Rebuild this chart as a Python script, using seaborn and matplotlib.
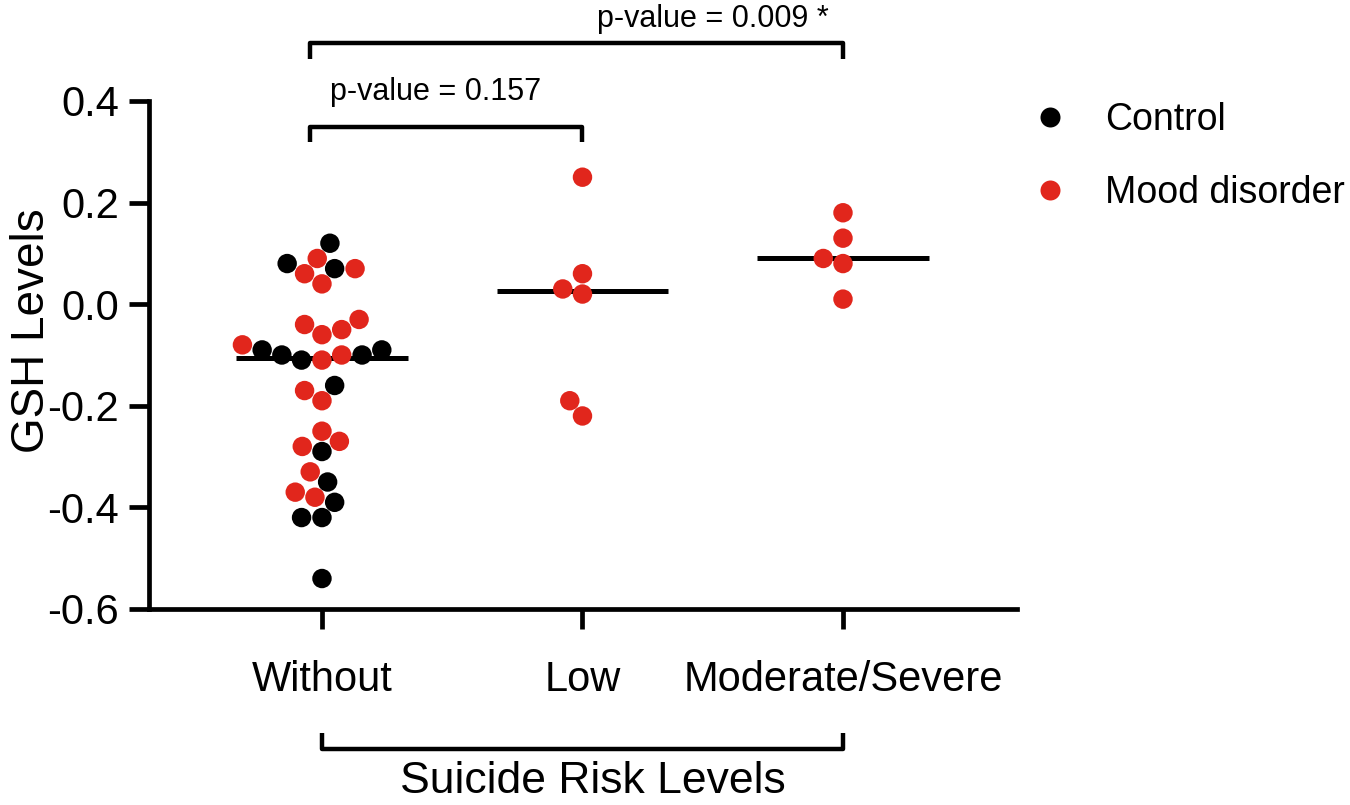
import pandas as pd
import numpy as np
import matplotlib
matplotlib.use("Agg")
import matplotlib.pyplot as plt
import matplotlib.lines as mlines
import seaborn as sns

# --- Data ---
categories = ["Without", "Low", "Moderate/Severe"]
groups = ["Control", "Mood disorder"]

without_control = [0.12, 0.08, 0.07, -0.09, -0.09, -0.10, -0.10, -0.11, -0.16,
                   -0.29, -0.35, -0.39, -0.42, -0.42, -0.54]
without_mood = [0.09, 0.07, 0.06, 0.04, -0.03, -0.04, -0.05, -0.06, -0.08, -0.10,
                -0.11, -0.17, -0.19, -0.25, -0.27, -0.28, -0.33, -0.37, -0.38]
low_mood = [0.25, 0.06, 0.03, 0.02, -0.19, -0.22]
severe_mood = [0.18, 0.13, 0.09, 0.08, 0.01]

pvalue_labels = ["p-value = 0.157", "p-value = 0.009 *"]
colors = {"Control": "#000000", "Mood disorder": "#E1261C"}

# --- Build long table ---
rows = []
for v in without_control:
    rows.append(("Without", "Control", v))
for v in without_mood:
    rows.append(("Without", "Mood disorder", v))
for v in low_mood:
    rows.append(("Low", "Mood disorder", v))
for v in severe_mood:
    rows.append(("Moderate/Severe", "Mood disorder", v))
df = pd.DataFrame(rows, columns=["risk", "group", "gsh"])

# --- Style ---
sns.set_style("ticks", {"axes.edgecolor": "black", "text.color": "black",
                        "xtick.color": "black", "ytick.color": "black",
                        "axes.labelcolor": "black"})
plt.rcParams["font.family"] = ["Liberation Sans", "DejaVu Sans"]

fig = plt.figure(figsize=(13.5, 8.05), dpi=100)
ax = fig.add_axes([149 / 1350, 1 - 609 / 805, 868 / 1350, 508 / 805])

sns.swarmplot(data=df, x="risk", y="gsh", hue="group", order=categories,
              hue_order=groups, palette=colors, size=14, linewidth=0,
              legend=False, ax=ax)

# median lines
medians = df.groupby("risk")["gsh"].median().reindex(categories)
for i, m in enumerate(medians):
    ax.hlines(m, i - 0.33, i + 0.33, color="black", lw=3.6, zorder=1)

ax.set_xlim(-0.664, 2.668)
ax.set_ylim(-0.6, 0.4)
ax.set_yticks(np.arange(-0.6, 0.41, 0.2))
ax.set_yticklabels([f"{t:.1f}" for t in np.arange(-0.6, 0.41, 0.2)])
ax.set_xlabel("")
ax.set_ylabel("GSH Levels", fontsize=33, color="black")
ax.yaxis.set_label_coords(-0.109, 0.547)

sns.despine(ax=ax)
for side in ["left", "bottom"]:
    ax.spines[side].set_linewidth(3.4)
    ax.spines[side].set_color("black")
ax.tick_params(axis="both", length=14.4, width=3.4, color="black", labelcolor="black")
ax.tick_params(axis="y", labelsize=30, pad=7)
ax.tick_params(axis="x", labelsize=30, pad=22)

# --- significance brackets ---
br_kw = dict(color="black", lw=3.2, clip_on=False, solid_capstyle="butt")
ax.plot([-0.046, -0.046, 1.0, 1.0], [0.319, 0.349, 0.349, 0.319], **br_kw)
ax.plot([-0.046, -0.046, 2.0, 2.0], [0.483, 0.514, 0.514, 0.483], **br_kw)
ax.text(0.437, 0.402, pvalue_labels[0], fontsize=22, ha="center", va="baseline",
        color="black")
ax.text(1.50, 0.546, pvalue_labels[1], fontsize=22, ha="center", va="baseline",
        color="black")

# bottom group bracket
trans = ax.get_xaxis_transform()
ax.plot([0, 0, 2, 2], [-0.244, -0.276, -0.276, -0.244], transform=trans, **br_kw)
ax.text(1.04, -0.362, "Suicide Risk Levels", fontsize=32, ha="center",
        va="baseline", transform=trans, color="black")

# --- legend ---
handles = [mlines.Line2D([], [], marker="o", linestyle="", markersize=14.4,
                         color=colors[g], markeredgewidth=0) for g in groups]
fig.legend(handles, groups, loc="upper left", bbox_to_anchor=(1031 / 1350, 1 - 102 / 805),
           frameon=False, fontsize=27, handlelength=1.0, handletextpad=0.97,
           labelspacing=0.98, borderpad=0, borderaxespad=0, labelcolor="black")

fig.savefig("out.png", dpi=100)
